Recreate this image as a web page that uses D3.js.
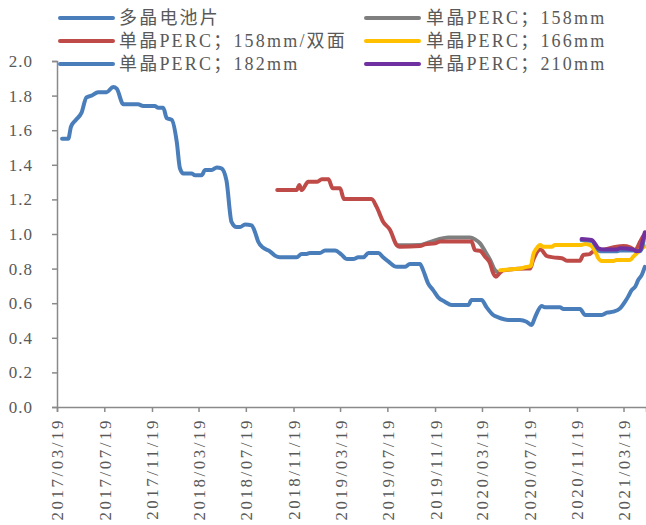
<!DOCTYPE html>
<html>
<head>
<meta charset="utf-8">
<script src="https://cdn.jsdelivr.net/npm/d3@7"></script>
<style>
  body { margin: 0; background: #ffffff; }
  svg { display: block; }
</style>
</head>
<body>
<svg id="chart" width="646" height="525"></svg>
<script>
// 电池片价格（元/W）
const polyDates = ["2017-04-01","2017-04-17","2017-04-24","2017-05-07","2017-05-21","2017-06-03","2017-06-16","2017-07-03","2017-07-25","2017-08-11","2017-08-20","2017-09-06","2017-10-14","2017-10-27","2017-11-26","2017-12-05","2017-12-18","2017-12-27","2018-01-09","2018-01-22","2018-01-30","2018-02-08","2018-03-01","2018-03-10","2018-03-27","2018-04-05","2018-04-22","2018-05-05","2018-05-17","2018-05-30","2018-06-12","2018-06-25","2018-07-04","2018-07-17","2018-08-03","2018-08-11","2018-08-20","2018-09-02","2018-09-19","2018-10-02","2018-10-15","2018-11-27","2018-12-10","2018-12-23","2018-12-31","2019-01-26","2019-02-08","2019-03-06","2019-03-23","2019-04-05","2019-04-22","2019-05-05","2019-05-18","2019-05-31","2019-06-26","2019-07-08","2019-07-22","2019-08-12","2019-09-02","2019-09-15","2019-10-11","2019-10-19","2019-11-01","2019-11-14","2019-11-27","2019-12-14","2020-01-01","2020-02-13","2020-02-21","2020-03-18","2020-03-31","2020-04-17","2020-04-30","2020-05-26","2020-06-25","2020-07-12","2020-07-25","2020-08-03","2020-08-20","2020-08-28","2020-10-06","2020-10-15","2020-11-27","2020-12-10","2021-01-22","2021-02-04","2021-02-21","2021-03-10","2021-03-23","2021-03-31","2021-04-09","2021-04-18","2021-04-26","2021-05-05","2021-05-13"];
const polyValues = [1.55,1.55,1.62,1.66,1.70,1.79,1.80,1.82,1.82,1.85,1.84,1.75,1.75,1.74,1.74,1.73,1.73,1.67,1.66,1.53,1.38,1.35,1.35,1.34,1.34,1.37,1.37,1.385,1.38,1.31,1.07,1.04,1.04,1.055,1.05,1.015,0.955,0.92,0.90,0.875,0.865,0.865,0.885,0.885,0.89,0.89,0.905,0.905,0.88,0.855,0.855,0.865,0.865,0.89,0.89,0.865,0.84,0.81,0.81,0.827,0.827,0.792,0.715,0.676,0.634,0.609,0.59,0.59,0.618,0.618,0.576,0.532,0.518,0.503,0.503,0.493,0.474,0.52,0.584,0.576,0.576,0.566,0.566,0.532,0.532,0.545,0.551,0.57,0.609,0.638,0.676,0.695,0.734,0.763,0.81];

const perc158Dates = ["2019-08-16","2019-10-11","2019-11-01","2019-11-27","2019-12-23","2020-02-17","2020-03-01","2020-03-14","2020-03-27","2020-04-09","2020-04-22","2020-04-30"];
const perc158Values = [0.935,0.936,0.95,0.969,0.98,0.98,0.969,0.946,0.90,0.85,0.79,0.78];

const bifacialDates = ["2018-10-08","2018-11-27","2018-12-04","2018-12-10","2018-12-27","2019-01-18","2019-01-31","2019-02-17","2019-02-28","2019-03-19","2019-03-29","2019-06-08","2019-06-21","2019-07-08","2019-07-26","2019-08-12","2019-08-20","2019-10-11","2019-10-24","2019-11-19","2019-12-02","2020-02-21","2020-03-01","2020-03-14","2020-03-27","2020-04-09","2020-04-17","2020-04-24","2020-05-03","2020-05-13","2020-07-12","2020-07-21","2020-07-29","2020-08-17","2020-09-02","2020-09-19","2020-10-11","2020-10-24","2020-11-27","2020-12-05","2020-12-22","2020-12-31","2021-01-30","2021-03-01","2021-03-19","2021-04-05","2021-04-18","2021-05-01","2021-05-11","2021-05-16"];
const bifacialValues = [1.254,1.254,1.283,1.254,1.302,1.302,1.316,1.316,1.264,1.264,1.202,1.202,1.158,1.071,1.023,0.936,0.926,0.93,0.94,0.946,0.956,0.956,0.907,0.903,0.869,0.83,0.773,0.753,0.773,0.79,0.80,0.80,0.85,0.91,0.873,0.865,0.86,0.846,0.846,0.879,0.884,0.90,0.91,0.927,0.93,0.923,0.907,0.956,0.994,1.0];

const perc166Dates = ["2020-05-05","2020-06-04","2020-06-25","2020-07-12","2020-07-23","2020-07-29","2020-08-07","2020-08-16","2020-08-24","2020-09-15","2020-09-23","2020-11-27","2020-12-10","2020-12-23","2021-01-05","2021-01-13","2021-01-22","2021-02-21","2021-03-01","2021-04-05","2021-04-13","2021-04-22","2021-05-05","2021-05-13"];
const perc166Values = [0.79,0.796,0.80,0.81,0.815,0.879,0.917,0.936,0.927,0.927,0.936,0.936,0.942,0.936,0.90,0.86,0.844,0.844,0.85,0.85,0.869,0.888,0.917,0.93];

const perc182Dates = ["2020-12-01","2020-12-27","2021-01-08","2021-01-17","2021-03-01","2021-03-10","2021-04-13","2021-05-01","2021-05-13"];
const perc182Values = [0.965,0.96,0.925,0.90,0.90,0.905,0.905,0.90,1.0];

const perc210Dates = ["2020-12-01","2020-12-27","2021-01-05","2021-01-13","2021-01-26","2021-03-01","2021-03-10","2021-04-13","2021-04-22","2021-05-01","2021-05-08","2021-05-13"];
const perc210Values = [0.971,0.965,0.942,0.917,0.91,0.91,0.917,0.91,0.90,0.907,0.965,1.01];

const seriesNames = ["多晶电池片","单晶PERC；158mm","单晶PERC；158mm/双面","单晶PERC；166mm","单晶PERC；182mm","单晶PERC；210mm"];
const seriesColors = ["#4a7ebb","#7f7f7f","#be4b48","#ffc000","#4a7ebb","#7030a0"];

const xTickLabels = ["2017/03/19","2017/07/19","2017/11/19","2018/03/19","2018/07/19","2018/11/19","2019/03/19","2019/07/19","2019/11/19","2020/03/19","2020/07/19","2020/11/19","2021/03/19"];
const yTickValues = [0,0.2,0.4,0.6,0.8,1.0,1.2,1.4,1.6,1.8,2.0];

const parseIso = d3.timeParse("%Y-%m-%d");
const parseTick = d3.timeParse("%Y/%m/%d");
const fmtTick = d3.timeFormat("%Y/%m/%d");

const series = [
  [polyDates, polyValues],
  [perc158Dates, perc158Values],
  [bifacialDates, bifacialValues],
  [perc166Dates, perc166Values],
  [perc182Dates, perc182Values],
  [perc210Dates, perc210Values]
];
const data = series.map(([ds, vs], i) => ({
  name: seriesNames[i],
  color: seriesColors[i],
  points: ds.map((d, j) => ({ date: parseIso(d), value: vs[j] }))
}));

const svg = d3.select("#chart");
const W = 646, H = 525;
const plot = { left: 57, right: 646, top: 61, bottom: 407 };

svg.append("rect").attr("width", W).attr("height", H).attr("fill", "#ffffff");

const x = d3.scaleTime()
  .domain([parseIso("2017-03-19"), parseIso("2021-05-16")])
  .range([plot.left, plot.right]);
const y = d3.scaleLinear().domain([0, 2]).range([plot.bottom, plot.top]);

const textColor = "#595959";
const axisColor = "#8a8a8a";
const fontFamily = "'Liberation Serif', 'Noto Sans CJK SC', serif";

// 纵轴
const yAxis = svg.append("g")
  .attr("transform", `translate(${plot.left},0)`)
  .call(d3.axisLeft(y).tickValues(yTickValues).tickFormat(d3.format(".1f")).tickSizeOuter(0).tickSize(5).tickPadding(19));
yAxis.select(".domain").attr("stroke", axisColor).attr("stroke-width", 1.5);
yAxis.selectAll(".tick line").attr("stroke", axisColor).attr("stroke-width", 1.5);
yAxis.selectAll(".tick text")
  .attr("fill", textColor)
  .style("font-family", fontFamily)
  .style("font-size", "17px")
  .style("letter-spacing", "1px");

// 横轴
const xAxis = svg.append("g")
  .attr("transform", `translate(0,${plot.bottom})`)
  .call(d3.axisBottom(x).tickValues(xTickLabels.map(parseTick)).tickFormat(fmtTick).tickSizeOuter(0).tickSize(5));
xAxis.select(".domain").attr("stroke", axisColor).attr("stroke-width", 1.5);
xAxis.selectAll(".tick line").attr("stroke", axisColor).attr("stroke-width", 1.5);
xAxis.selectAll(".tick text")
  .attr("fill", textColor)
  .attr("transform", "rotate(-90)")
  .attr("x", -11)
  .attr("y", 0)
  .attr("dy", "0.35em")
  .style("text-anchor", "end")
  .style("font-family", fontFamily)
  .style("font-size", "17px")
  .style("letter-spacing", "2.5px");

// 折线
const line = d3.line()
  .x(d => x(d.date))
  .y(d => y(d.value))
  .curve(d3.curveMonotoneX);

svg.append("g").selectAll("path")
  .data(data)
  .join("path")
  .attr("d", d => line(d.points))
  .attr("fill", "none")
  .attr("stroke", d => d.color)
  .attr("stroke-width", 4)
  .attr("stroke-linejoin", "round")
  .attr("stroke-linecap", "round");

// 图例（两列）
const legendCols = [
  { lineX: 60, textX: 119, items: [0, 2, 4] },
  { lineX: 366, textX: 426, items: [1, 3, 5] }
];
const legendRows = [18, 41, 64];
const legend = svg.append("g");
legendCols.forEach(col => {
  col.items.forEach((idx, r) => {
    legend.append("line")
      .attr("x1", col.lineX).attr("x2", col.lineX + 53)
      .attr("y1", legendRows[r]).attr("y2", legendRows[r])
      .attr("stroke", seriesColors[idx])
      .attr("stroke-width", 4)
      .attr("stroke-linecap", "round");
    legend.append("text")
      .attr("x", col.textX)
      .attr("y", legendRows[r])
      .attr("dy", "0.35em")
      .attr("fill", textColor)
      .style("font-family", fontFamily)
      .style("font-size", "18px")
      .style("letter-spacing", "2.2px")
      .text(seriesNames[idx]);
  });
});
</script>
</body>
</html>
